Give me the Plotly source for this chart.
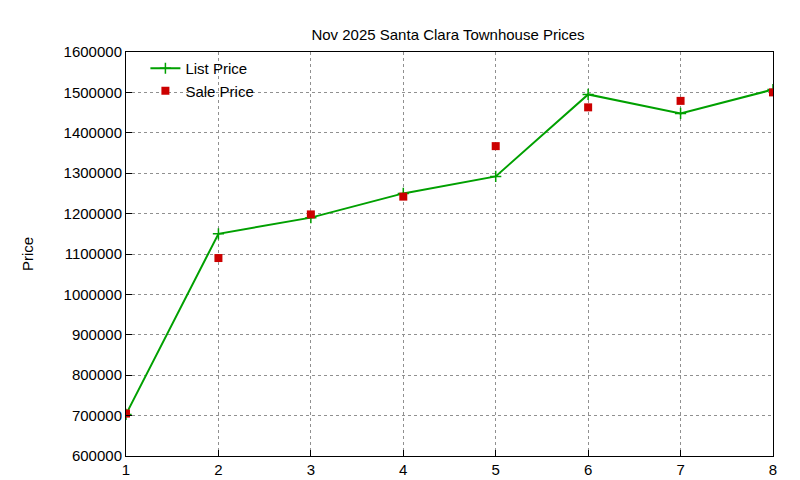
import plotly.graph_objects as go

x = [1, 2, 3, 4, 5, 6, 7, 8]
list_price = [703000, 1150000, 1190000, 1250000, 1292000, 1495000, 1448000, 1507000]
sale_price = [705000, 1090000, 1198000, 1242000, 1367000, 1463000, 1479000, 1500000]

fig = go.Figure()
fig.add_trace(go.Scatter(x=x, y=list_price, mode="lines+markers", name="List Price",
                         line=dict(color="#00a000", width=2),
                         marker=dict(symbol="cross-thin", size=8, line=dict(color="#00a000", width=1.5))))
fig.add_trace(go.Scatter(x=x, y=sale_price, mode="markers", name="Sale Price",
                         marker=dict(symbol="square", size=8, color="#cc0000")))

axis = dict(showline=True, linecolor="black", linewidth=1, mirror=True, ticks="inside",
            ticklen=6, tickcolor="black", showgrid=True, gridcolor="#909090",
            griddash="dot", gridwidth=1, zeroline=False, automargin=False,
            tickfont=dict(size=15))
fig.update_layout(
    width=800, height=480, paper_bgcolor="white", plot_bgcolor="white",
    font=dict(family="Liberation Sans, Arial, sans-serif", size=14, color="black"),
    title=dict(text="Nov 2025 Santa Clara Townhouse Prices", x=0.55, y=0.955, xanchor="center",
               font=dict(size=15)),
    margin=dict(l=118, r=35, t=44, b=32),
    xaxis=dict(range=[1, 8], dtick=1, **axis),
    yaxis=dict(range=[600000, 1600000], dtick=100000, tickformat="d",
               title=dict(text="Price", standoff=26, font=dict(size=15)), **axis),
    legend=dict(x=0.03, y=1.0, xanchor="left", yanchor="top", bgcolor="rgba(0,0,0,0)",
                font=dict(size=15), tracegroupgap=0),
    showlegend=True,
)
fig.write_html("out.html")
